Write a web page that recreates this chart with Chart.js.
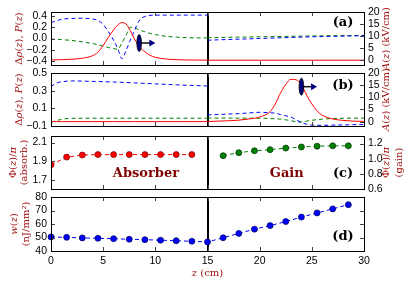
<!DOCTYPE html>
<html>
<head>
<meta charset="utf-8">
<script src="https://cdn.jsdelivr.net/npm/chart.js@4.4.1/dist/chart.umd.min.js"></script>
<style>
  html, body { margin: 0; padding: 0; background: #fff; }
  #wrap { position: relative; width: 415px; height: 285px; }
  #wrap canvas { position: absolute; left: 0; top: 0; }
</style>
</head>
<body>
<div id="wrap">
  <canvas id="cA" width="415" height="285"></canvas>
  <canvas id="cB" width="415" height="285"></canvas>
  <canvas id="cC" width="415" height="285"></canvas>
  <canvas id="cD" width="415" height="285"></canvas>
</div>
<script>
// ---- shared z axis ----
const zTicks = [0, 5, 10, 15, 20, 25, 30];
const zTickLabels = ["0", "5", "10", "15", "20", "25", "30"];
const boundaryZ = 15;

// ---- panel (a): pulse in the absorber ----
const zA1 = [0, 1, 2, 3, 4, 4.5, 5, 5.5, 6, 6.4, 6.8, 7.2, 7.6, 8, 8.5, 9, 9.5, 10, 11, 12, 13, 14, 15];
const blueA1 = [0.28, 0.34, 0.355, 0.36, 0.345, 0.32, 0.25, 0.12, -0.03, -0.18, -0.36, -0.21, -0.03, 0.14, 0.33, 0.39, 0.41, 0.415, 0.415, 0.415, 0.415, 0.415, 0.415];
const greenA1 = [-0.01, -0.02, -0.035, -0.06, -0.09, -0.11, -0.135, -0.16, -0.18, -0.19, -0.08, 0.06, 0.2, 0.19, 0.15, 0.12, 0.09, 0.07, 0.04, 0.025, 0.015, 0.01, 0.01];
const redA1 = [0.1, 0.2, 0.4, 0.8, 1.9, 3.3, 6.1, 9.5, 12.6, 14.6, 15.6, 15.0, 12.3, 8.8, 5.4, 3.5, 2.0, 1.2, 0.5, 0.2, 0.1, 0.05, 0];
const zA2 = [15, 20, 25, 30];
const blueA2 = [-0.03, 0.0, 0.03, 0.05];
const greenA2 = [0.015, 0.03, 0.045, 0.055];
const redA2 = [0, 0, 0, 0];

// ---- panel (b): pulse in the gain section ----
const zB1 = [0, 0.5, 1, 2, 4, 6, 8, 10, 12, 14, 15];
const blueB1 = [0.345, 0.385, 0.4, 0.41, 0.405, 0.398, 0.388, 0.377, 0.366, 0.357, 0.353];
const greenB1 = [-0.058, -0.04, -0.025, -0.013, -0.012, -0.012, -0.012, -0.012, -0.012, -0.012, -0.012];
const redB1 = [0, 0, 0, 0, 0, 0, 0, 0, 0, 0, 0];
const zB2 = [15, 16, 17, 18, 19, 20, 21, 21.5, 22, 22.5, 23, 23.5, 24, 24.5, 25, 25.5, 26, 27, 28, 29, 30];
const blueB2 = [0.025, 0.03, 0.035, 0.04, 0.048, 0.055, 0.05, 0.045, 0.03, 0.015, 0.0, -0.03, -0.06, -0.08, -0.09, -0.092, -0.092, -0.09, -0.088, -0.085, -0.082];
const greenB2 = [-0.01, -0.01, -0.01, -0.011, -0.011, -0.012, -0.016, -0.019, -0.022, -0.03, -0.04, -0.052, -0.055, -0.045, -0.035, -0.028, -0.022, -0.015, -0.012, -0.011, -0.01];
const redB2 = [0, 0.2, 0.35, 0.6, 1.1, 1.9, 4.1, 7.3, 11.8, 15.3, 17.4, 17.2, 15.2, 10.9, 7.3, 4.4, 2.6, 1.1, 0.5, 0.2, 0.1];

// pulse markers (position, height on left axis, arrow tip)
const pulseZ = [8.45, 24.0];
const pulseV = [-0.08, 0.345];
const pulseTip = [10.0, 25.5];

// ---- panel (c): phase ----
const zAbsorb = [0, 1.5, 3, 4.5, 6, 7.5, 9, 10.5, 12, 13.5];
const phiAbsorb = [1.86, 1.943, 1.965, 1.97, 1.97, 1.97, 1.97, 1.97, 1.97, 1.97];
const zGain = [16.5, 18, 19.5, 21, 22.5, 24, 25.5, 27, 28.5];
const phiGain = [1.04, 1.08, 1.105, 1.12, 1.14, 1.155, 1.165, 1.17, 1.17];

// ---- panel (d): pulse energy ----
const zEnergy = [0, 1.5, 3, 4.5, 6, 7.5, 9, 10.5, 12, 13.5, 15, 16.5, 18, 19.5, 21, 22.5, 24, 25.5, 27, 28.5];
const wEnergy = [50.4, 50.1, 49.7, 49.4, 49.1, 48.7, 48.4, 48.0, 47.6, 47.2, 46.7, 49.8, 53.0, 56.2, 58.8, 61.8, 65.1, 68.2, 71.2, 74.3];

// ---- tick values / labels ----
const ticksAL = [-0.4, -0.2, 0, 0.2, 0.4];
const labelsAL = ["\u22120.4", "\u22120.2", "0.0", "0.2", "0.4"];
const ticksField = [0, 5, 10, 15, 20];
const labelsField = ["0", "5", "10", "15", "20"];
const ticksBL = [-0.1, 0.1, 0.3, 0.5];
const labelsBL = ["\u22120.1", "0.1", "0.3", "0.5"];
const ticksCL = [1.7, 1.9, 2.1];
const labelsCL = ["1.7", "1.9", "2.1"];
const ticksCR = [0.6, 0.8, 1.0, 1.2];
const labelsCR = ["0.6", "0.8", "1.0", "1.2"];
const ticksDL = [40, 50, 60, 70, 80];
const labelsDL = ["40", "50", "60", "70", "80"];

const titleRed = "#a01010";
const serif = '"DejaVu Serif"';
const tickFont = '10.5px "Liberation Sans"';

function pts(zs, vs) {
  return zs.map((z, i) => ({ x: z, y: vs[i] }));
}

function curve(zs, vs, color, dash, axis) {
  return {
    data: pts(zs, vs), yAxisID: axis, showLine: true, borderColor: color,
    borderWidth: 1, borderDash: dash, pointRadius: 0, cubicInterpolationMode: "monotone"
  };
}

function dots(zs, vs, color, edge, axis, clip) {
  const d = {
    data: pts(zs, vs), yAxisID: axis, showLine: true, borderColor: color, borderWidth: 1,
    borderDash: [4, 3], pointRadius: 3, pointBackgroundColor: color,
    pointBorderColor: edge, pointBorderWidth: 0.7
  };
  if (clip === false) d.clip = false;
  return d;
}

// text with italic pieces, centred at (x, y)
function rich(ctx, parts, x, y, size, color, rot) {
  ctx.save();
  ctx.translate(x, y);
  ctx.rotate(rot);
  const fonts = parts.map(p => (p[1] === "i" ? "italic " : "") + size + "px " + serif);
  const widths = parts.map((p, i) => { ctx.font = fonts[i]; return ctx.measureText(p[0]).width; });
  let cx = -widths.reduce((a, b) => a + b, 0) / 2;
  ctx.fillStyle = color;
  ctx.textBaseline = "middle";
  ctx.textAlign = "left";
  parts.forEach((p, i) => { ctx.font = fonts[i]; ctx.fillText(p[0], cx, 0); cx += widths[i]; });
  ctx.restore();
}

const decor = {
  id: "decor",
  beforeDatasetsDraw(chart, args, o) {
    const ctx = chart.ctx, a = chart.chartArea;
    const bx = Math.round(chart.scales.x.getPixelForValue(boundaryZ));
    ctx.save();
    ctx.strokeStyle = "#000";
    ctx.lineWidth = 2;
    ctx.beginPath(); ctx.moveTo(bx, a.top); ctx.lineTo(bx, a.bottom); ctx.stroke();
    ctx.restore();
  },
  afterDatasetsDraw(chart, args, o) {
    const ctx = chart.ctx, a = chart.chartArea, xs = chart.scales.x;
    const yl = chart.scales.y, yr = chart.scales.y2;
    const L = o.yl, R = o.yr;
    ctx.save();
    ctx.strokeStyle = "#444";
    ctx.lineWidth = 1;
    ctx.beginPath();
    zTicks.forEach(v => {
      const px = Math.round(xs.getPixelForValue(v)) + 0.5;
      ctx.moveTo(px, a.bottom); ctx.lineTo(px, a.bottom - 4);
      ctx.moveTo(px, a.top); ctx.lineTo(px, a.top + 4);
    });
    L[0].forEach(v => {
      const py = Math.round(yl.getPixelForValue(v)) + 0.5;
      ctx.moveTo(a.left, py); ctx.lineTo(a.left + 4, py);
      if (!R) { ctx.moveTo(a.right, py); ctx.lineTo(a.right - 4, py); }
    });
    if (R) {
      R[0].forEach(v => {
        const py = Math.round(yr.getPixelForValue(v)) + 0.5;
        ctx.moveTo(a.right, py); ctx.lineTo(a.right - 4, py);
      });
    }
    ctx.stroke();

    // y tick labels from the label arrays
    ctx.fillStyle = "#000";
    ctx.font = tickFont;
    ctx.textBaseline = "middle";
    ctx.textAlign = "right";
    L[0].forEach((v, i) => ctx.fillText(L[1][i], a.left - 4, yl.getPixelForValue(v)));
    if (R) {
      ctx.textAlign = "left";
      R[0].forEach((v, i) => ctx.fillText(R[1][i], a.right + 4, yr.getPixelForValue(v)));
    }

    // frame
    ctx.strokeStyle = "#000";
    ctx.strokeRect(Math.round(a.left) + 0.5, Math.round(a.top) + 0.5,
      Math.round(a.right - a.left), Math.round(a.bottom - a.top));

    // pulse marker with arrow
    if (o.pulse !== undefined) {
      const i = o.pulse;
      const ex = xs.getPixelForValue(pulseZ[i]);
      const ey = yl.getPixelForValue(pulseV[i]);
      const tx = xs.getPixelForValue(pulseTip[i]);
      ctx.strokeStyle = "#111";
      ctx.lineWidth = 1.5;
      ctx.beginPath(); ctx.moveTo(ex, ey); ctx.lineTo(tx - 5, ey); ctx.stroke();
      ctx.fillStyle = "#000080";
      ctx.beginPath(); ctx.moveTo(tx, ey); ctx.lineTo(tx - 6, ey - 3.5); ctx.lineTo(tx - 6, ey + 3.5); ctx.closePath(); ctx.fill();
      ctx.beginPath(); ctx.ellipse(ex, ey, 2.3, 8.5, 0, 0, Math.PI * 2);
      ctx.fill();
      ctx.lineWidth = 0.8; ctx.strokeStyle = "#000"; ctx.stroke();
    }

    // axis titles
    const mid = (a.top + a.bottom) / 2;
    (o.left || []).forEach(l => rich(ctx, l.parts, l.x, mid, 10, titleRed, -Math.PI / 2));
    (o.right || []).forEach(l => rich(ctx, l.parts, l.x, mid, 10, titleRed, -Math.PI / 2));
    if (o.xTitle) rich(ctx, o.xTitle, (a.left + a.right) / 2, 273, 10, titleRed, 0);

    // panel tag
    ctx.fillStyle = "#000";
    ctx.font = "bold 13px " + serif;
    ctx.textAlign = "center";
    ctx.textBaseline = "middle";
    ctx.fillText(o.tag, a.right - 21, o.tagTop ? a.top + o.tagDy : a.bottom - o.tagDy);

    // region words
    if (o.words) {
      ctx.fillStyle = "#800000";
      o.words.forEach(w => ctx.fillText(w.text, xs.getPixelForValue(w.z), a.bottom - 15));
    }
    ctx.restore();
  }
};

function yAxis(pos, min, max, width) {
  return {
    type: "linear", position: pos, min: min, max: max, bounds: "data",
    grid: { display: false, drawTicks: false }, border: { display: false },
    afterFit: s => { s.width = width; },
    ticks: { display: false }
  };
}

function xAxis(showLabels) {
  return {
    type: "linear", min: 0, max: 30, bounds: "data",
    grid: { display: false, drawTicks: false }, border: { display: false },
    afterBuildTicks: s => { s.ticks = zTicks.map(v => ({ value: v })); },
    afterFit: s => { s.height = showLabels ? 34 : 0; },
    ticks: {
      display: showLabels, padding: 4, color: "#000", maxRotation: 0,
      autoSkip: false, autoSkipPadding: 0,
      font: { family: "Liberation Sans", size: 10.5 },
      callback: (v, i) => zTickLabels[i]
    }
  };
}

function makePanel(id, top, bottom, scales, datasets, decorOpts, padRight) {
  return new Chart(document.getElementById(id), {
    type: "scatter",
    data: { datasets: datasets },
    options: {
      responsive: false, animation: false, events: [],
      layout: { padding: { top: top, bottom: bottom, left: 0, right: padRight || 0 } },
      scales: scales,
      plugins: { legend: { display: false }, tooltip: { enabled: false }, decor: decorOpts }
    },
    plugins: [decor]
  });
}

const rhoLabel = [["\u0394", ""], ["\u03c1", "i"], ["(", ""], ["z", "i"], ["), ", ""], ["P", "i"], ["(", ""], ["z", "i"], [")", ""]];
const fieldLabel = [["A", "i"], ["(", ""], ["z", "i"], [") (kV/cm)", ""]];
const phiLabel = [["\u03a6", ""], ["(", ""], ["z", "i"], [")/", ""], ["\u03c0", "i"]];

makePanel("cA", 12, 220, {
  x: xAxis(false),
  y: yAxis("left", -0.47, 0.47, 51),
  y2: yAxis("right", -2, 20, 51)
}, [
  curve(zA1, redA1, "#ff0000", [], "y2"),
  curve(zA2, redA2, "#ff0000", [], "y2"),
  curve(zA1, blueA1, "#0000ff", [4, 3], "y"),
  curve(zA2, blueA2, "#0000ff", [4, 3], "y"),
  curve(zA1, greenA1, "#008000", [4, 3], "y"),
  curve(zA2, greenA2, "#008000", [4, 3], "y")
], {
  tag: "(a)", tagTop: true, tagDy: 11, pulse: 0,
  yl: [ticksAL, labelsAL], yr: [ticksField, labelsField],
  left: [{ parts: rhoLabel, x: 19 }], right: [{ parts: fieldLabel, x: 386 }]
});

makePanel("cB", 73, 159, {
  x: xAxis(false),
  y: yAxis("left", -0.1, 0.5, 51),
  y2: yAxis("right", -1.8, 20, 51)
}, [
  curve(zB1, redB1, "#ff0000", [], "y2"),
  curve(zB2, redB2, "#ff0000", [], "y2"),
  curve(zB1, blueB1, "#0000ff", [4, 3], "y"),
  curve(zB2, blueB2, "#0000ff", [4, 3], "y"),
  curve(zB1, greenB1, "#008000", [4, 3], "y"),
  curve(zB2, greenB2, "#008000", [4, 3], "y")
], {
  tag: "(b)", tagTop: true, tagDy: 13, pulse: 1,
  yl: [ticksBL, labelsBL], yr: [ticksField, labelsField],
  left: [{ parts: rhoLabel, x: 19 }], right: [{ parts: fieldLabel, x: 386 }]
});

makePanel("cC", 136, 96, {
  x: xAxis(false),
  y: yAxis("left", 1.6, 2.17, 51),
  y2: yAxis("right", 0.6, 1.3, 51)
}, [
  dots(zAbsorb, phiAbsorb, "#ff0000", "#700000", "y"),
  dots(zGain, phiGain, "#008000", "#003000", "y2")
], {
  tag: "(c)", tagTop: false, tagDy: 15,
  yl: [ticksCL, labelsCL], yr: [ticksCR, labelsCR],
  words: [{ text: "Absorber", z: 9.1 }, { text: "Gain", z: 22.6 }],
  left: [{ parts: phiLabel, x: 13 }, { parts: [["(absorb.)", ""]], x: 24 }],
  right: [{ parts: phiLabel, x: 386 }, { parts: [["(gain)", ""]], x: 399 }]
});

makePanel("cD", 197, 0, {
  x: xAxis(true),
  y: yAxis("left", 40, 80, 51)
}, [
  dots(zEnergy, wEnergy, "#0000ff", "#000050", "y", false)
], {
  tag: "(d)", tagTop: false, tagDy: 14,
  yl: [ticksDL, labelsDL],
  left: [{ parts: [["w", "i"], ["(", ""], ["z", "i"], [")", ""]], x: 14 }, { parts: [["(nJ/mm\u00b2)", ""]], x: 26 }],
  xTitle: [["z", "i"], [" (cm)", ""]]
}, 51);
</script>
</body>
</html>
